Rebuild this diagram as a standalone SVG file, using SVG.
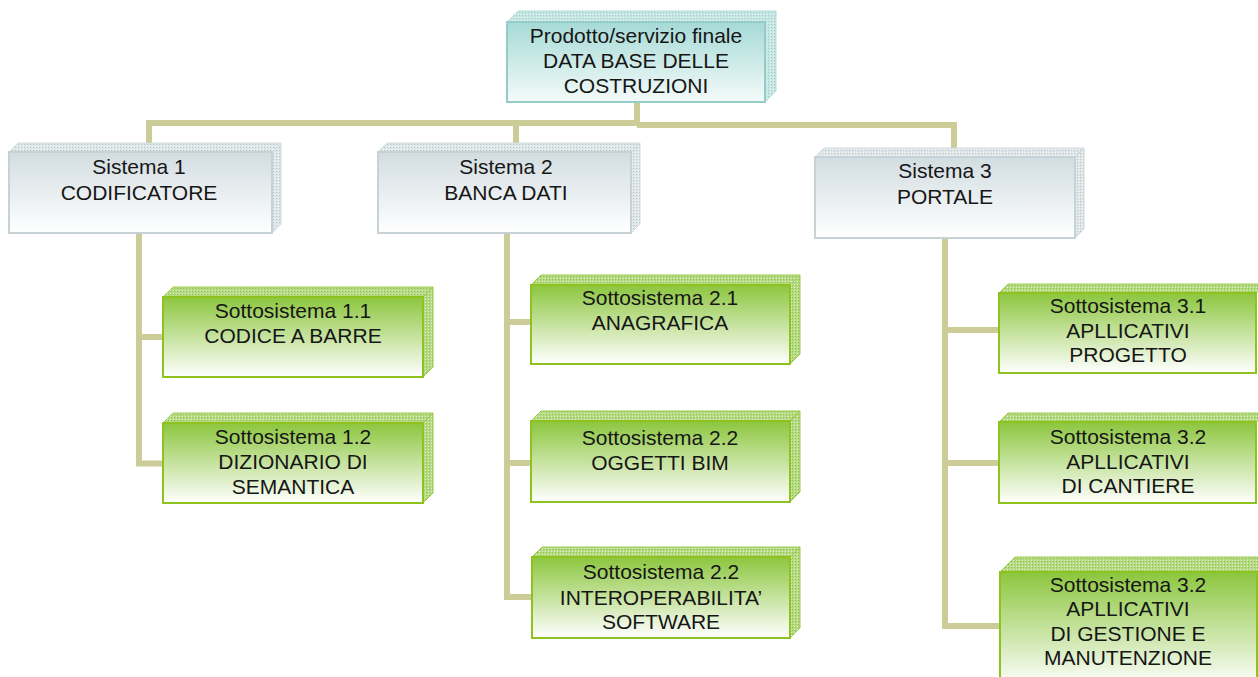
<svg xmlns="http://www.w3.org/2000/svg" width="1258" height="677" viewBox="0 0 1258 677">
<defs>
<linearGradient id="gTeal" x1="0" y1="0" x2="0" y2="1"><stop offset="0" stop-color="#a6dad6"/><stop offset="1" stop-color="#f4fbfa"/></linearGradient>
<linearGradient id="gGray" x1="0" y1="0" x2="0" y2="1"><stop offset="0" stop-color="#d2dde1"/><stop offset="1" stop-color="#ffffff"/></linearGradient>
<linearGradient id="gGreen" x1="0" y1="0" x2="0" y2="1"><stop offset="0" stop-color="#8cc63e"/><stop offset="1" stop-color="#ffffff"/></linearGradient>
<pattern id="pTeal" width="3" height="3" patternUnits="userSpaceOnUse"><rect width="3" height="3" fill="#c6e6e3"/><rect width="1" height="1" fill="#9ccfcb"/><rect x="2" y="2" width="1" height="1" fill="#e8f5f4"/></pattern>
<pattern id="pGray" width="3" height="3" patternUnits="userSpaceOnUse"><rect width="3" height="3" fill="#dfe6e8"/><rect width="1" height="1" fill="#b8c4c8"/><rect x="2" y="2" width="1" height="1" fill="#f4f6f7"/></pattern>
<pattern id="pGreen" width="3" height="3" patternUnits="userSpaceOnUse"><rect width="3" height="3" fill="#b6d986"/><rect width="1" height="1" fill="#8cc63e"/><rect x="2" y="2" width="1" height="1" fill="#e2f0cf"/></pattern>
</defs>
<style>
.con{fill:none;stroke:#cccc99;stroke-width:6;stroke-linejoin:miter}
.t{font-family:"Liberation Sans",Arial,sans-serif;font-size:21px;fill:#161616;text-anchor:middle}
.teal .f{fill:url(#gTeal);stroke:#96ccc8;stroke-width:2}
.teal .s{fill:url(#pTeal);stroke:#b2dad7;stroke-width:1}
.gray .f{fill:url(#gGray);stroke:#c6d2d6;stroke-width:2}
.gray .s{fill:url(#pGray);stroke:#d0d9dc;stroke-width:1}
.green .f{fill:url(#gGreen);stroke:#8ec31f;stroke-width:2}
.green .s{fill:url(#pGreen);stroke:#9ccb4a;stroke-width:1}
</style>
<g id="connectors">
<path class="con" d="M637,102 V123 M146,123 H640 M637,125 H957"/>
<path class="con" d="M149,120 V146 M516,123 V146 M954,125 V151"/>
<path class="con" d="M139,233 V463.5 H163 M139,337 H163"/>
<path class="con" d="M507,233 V597 H531 M507,322 H531 M507,463 H531"/>
<path class="con" d="M945,238 V626 H999 M945,330 H999 M945,463 H999"/>
</g>
<g id="n0" class="teal">
<polygon class="s" points="507,22 518,11 776,11 765,22"/>
<polygon class="s" points="765,22 776,11 776,91 765,102"/>
<rect class="f" x="507" y="22" width="258" height="80"/>
<text class="t" x="636" y="43">Prodotto/servizio finale</text>
<text class="t" x="636" y="68">DATA BASE DELLE</text>
<text class="t" x="636" y="93">COSTRUZIONI</text>
</g>
<g id="s1" class="gray">
<polygon class="s" points="9,152 18,143 281,143 272,152"/>
<polygon class="s" points="272,152 281,143 281,224 272,233"/>
<rect class="f" x="9" y="152" width="263" height="81"/>
<text class="t" x="139" y="174">Sistema 1</text>
<text class="t" x="139" y="200">CODIFICATORE</text>
</g>
<g id="s2" class="gray">
<polygon class="s" points="378,152 387,143 640,143 631,152"/>
<polygon class="s" points="631,152 640,143 640,224 631,233"/>
<rect class="f" x="378" y="152" width="253" height="81"/>
<text class="t" x="506" y="174">Sistema 2</text>
<text class="t" x="506" y="200">BANCA DATI</text>
</g>
<g id="s3" class="gray">
<polygon class="s" points="815,157 824,148 1084,148 1075,157"/>
<polygon class="s" points="1075,157 1084,148 1084,229 1075,238"/>
<rect class="f" x="815" y="157" width="260" height="81"/>
<text class="t" x="945" y="178">Sistema 3</text>
<text class="t" x="945" y="204">PORTALE</text>
</g>
<g id="s11" class="green">
<polygon class="s" points="163,297 173,287 433,287 423,297"/>
<polygon class="s" points="423,297 433,287 433,367 423,377"/>
<rect class="f" x="163" y="297" width="260" height="80"/>
<text class="t" x="293" y="318">Sottosistema 1.1</text>
<text class="t" x="293" y="343">CODICE A BARRE</text>
</g>
<g id="s12" class="green">
<polygon class="s" points="163,423 173,413 433,413 423,423"/>
<polygon class="s" points="423,423 433,413 433,493 423,503"/>
<rect class="f" x="163" y="423" width="260" height="80"/>
<text class="t" x="293" y="444">Sottosistema 1.2</text>
<text class="t" x="293" y="469">DIZIONARIO DI</text>
<text class="t" x="293" y="494">SEMANTICA</text>
</g>
<g id="s21" class="green">
<polygon class="s" points="531,285 541,275 800,275 790,285"/>
<polygon class="s" points="790,285 800,275 800,354 790,364"/>
<rect class="f" x="531" y="285" width="259" height="79"/>
<text class="t" x="660" y="305">Sottosistema 2.1</text>
<text class="t" x="660" y="330">ANAGRAFICA</text>
</g>
<g id="s22" class="green">
<polygon class="s" points="531,421 541,411 800,411 790,421"/>
<polygon class="s" points="790,421 800,411 800,492 790,502"/>
<rect class="f" x="531" y="421" width="259" height="81"/>
<text class="t" x="660" y="445">Sottosistema 2.2</text>
<text class="t" x="660" y="470">OGGETTI BIM</text>
</g>
<g id="s23" class="green">
<polygon class="s" points="532,557 542,547 800,547 790,557"/>
<polygon class="s" points="790,557 800,547 800,628 790,638"/>
<rect class="f" x="532" y="557" width="258" height="81"/>
<text class="t" x="661" y="579">Sottosistema 2.2</text>
<text class="t" x="661" y="605">INTEROPERABILITA’</text>
<text class="t" x="661" y="629">SOFTWARE</text>
</g>
<g id="s31" class="green">
<polygon class="s" points="999,293 1008,284 1266,284 1256,293"/>
<rect class="f" x="999" y="293" width="257" height="80"/>
<text class="t" x="1128" y="313">Sottosistema 3.1</text>
<text class="t" x="1128" y="338">APLLICATIVI</text>
<text class="t" x="1128" y="362">PROGETTO</text>
</g>
<g id="s32" class="green">
<polygon class="s" points="999,422 1008,413 1266,413 1256,422"/>
<rect class="f" x="999" y="422" width="257" height="81"/>
<text class="t" x="1128" y="444">Sottosistema 3.2</text>
<text class="t" x="1128" y="469">APLLICATIVI</text>
<text class="t" x="1128" y="493">DI CANTIERE</text>
</g>
<g id="s33" class="green">
<polygon class="s" points="1000,572 1015,557 1272,557 1257,572"/>
<rect class="f" x="1000" y="572" width="257" height="115"/>
<text class="t" x="1128" y="592">Sottosistema 3.2</text>
<text class="t" x="1128" y="616">APLLICATIVI</text>
<text class="t" x="1128" y="641">DI GESTIONE E</text>
<text class="t" x="1128" y="665">MANUTENZIONE</text>
</g>
</svg>
